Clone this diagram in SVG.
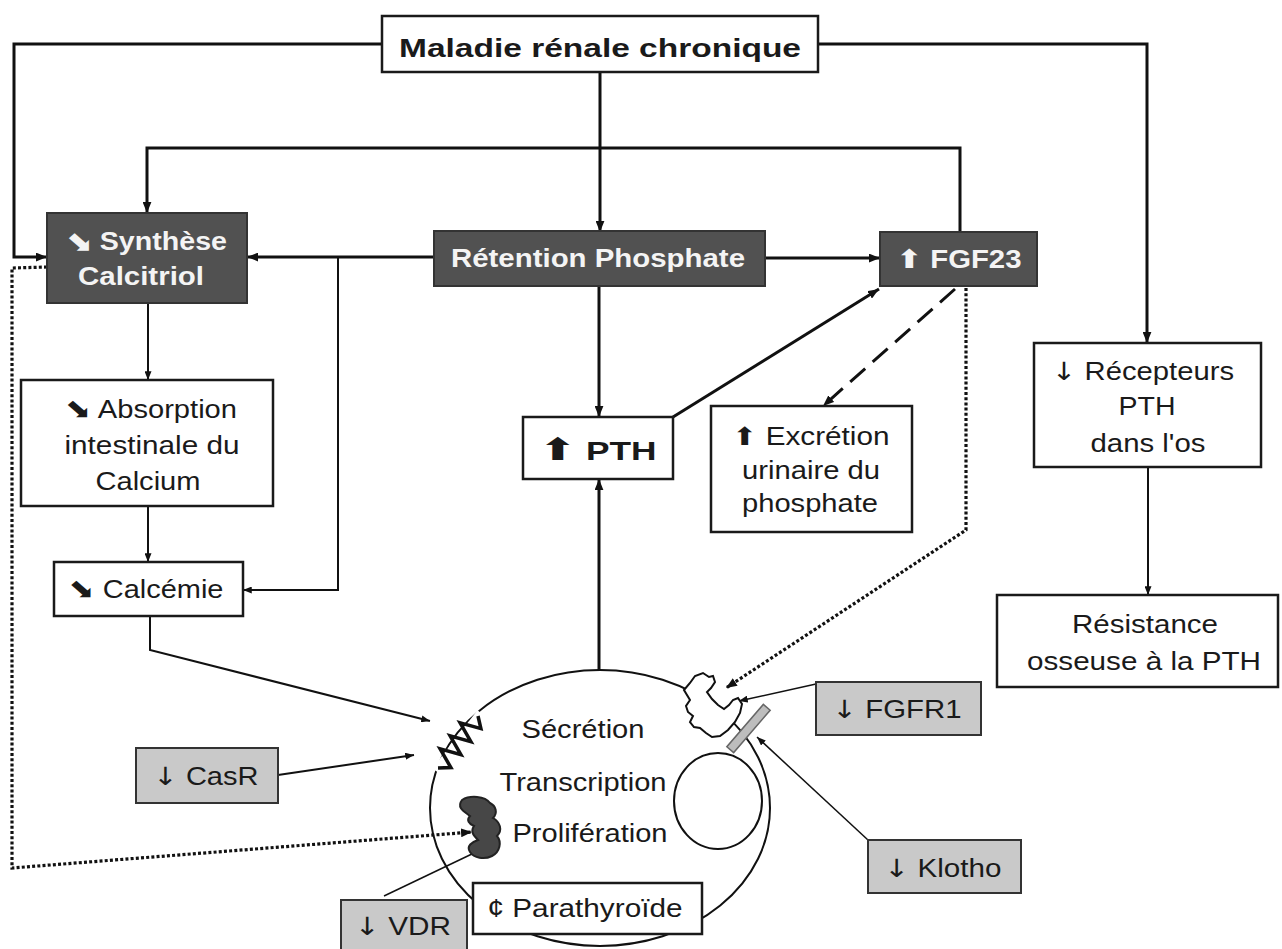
<svg xmlns="http://www.w3.org/2000/svg" width="1282" height="949" viewBox="0 0 1282 949">
<defs>
<style>
.box{fill:#fff;stroke:#1a1a1a;stroke-width:2.5}
.dark{fill:#515151;stroke:#333;stroke-width:2}
.grey{fill:#c9c9c9;stroke:#333;stroke-width:2}
.t{font-family:'Liberation Sans',Arial,sans-serif;font-size:25px;fill:#1a1a1a}
.tw{font-family:'Liberation Sans',Arial,sans-serif;font-size:25px;font-weight:bold;fill:#f4f4f4}
.ar{font-family:'DejaVu Sans',sans-serif}
.c{fill:none;stroke:#111;stroke-width:3}
.c2{fill:none;stroke:#111;stroke-width:2}
.c1{fill:none;stroke:#111;stroke-width:1.5}
.dot{fill:none;stroke:#111;stroke-width:3.2;stroke-dasharray:3 2.2}
.dash{fill:none;stroke:#111;stroke-width:3;stroke-dasharray:20 10}
</style>
<marker id="ah" viewBox="0 0 10 8" refX="10" refY="4" markerWidth="11" markerHeight="9" markerUnits="userSpaceOnUse" orient="auto"><path d="M0,0 L10,4 L0,8 z" fill="#111"/></marker>
<marker id="as" viewBox="0 0 10 8" refX="10" refY="4" markerWidth="9" markerHeight="7" markerUnits="userSpaceOnUse" orient="auto"><path d="M0,0 L10,4 L0,8 z" fill="#111"/></marker>
</defs>
<rect width="1282" height="949" fill="#fff"/>

<g id="connectors">
<polyline class="c" points="382,44 14,44 14,257 47,257" marker-end="url(#ah)"/>
<polyline class="c" points="818,44 1147,44 1147,343" marker-end="url(#ah)"/>
<line class="c" x1="600" y1="72" x2="600" y2="232" marker-end="url(#ah)"/>
<polyline class="c" points="960,233 960,148 147,148 147,213" marker-end="url(#ah)"/>
<line class="c" x1="434" y1="257" x2="247" y2="257" marker-end="url(#ah)"/>
<polyline class="c2" points="338,257 338,590 243,590" marker-end="url(#as)"/>
<line class="c" x1="765" y1="258" x2="880" y2="258" marker-end="url(#ah)"/>
<line class="c" x1="599" y1="286" x2="599" y2="417" marker-end="url(#ah)"/>
<line class="c" x1="673" y1="417" x2="879" y2="289" marker-end="url(#ah)"/>
<line class="dash" x1="955" y1="289" x2="823" y2="406" marker-end="url(#ah)"/>
<polyline class="dot" points="966,288 966,530 726,688" marker-end="url(#ah)"/>
<polyline class="dot" points="47,267 12,268 12,868 472,832" marker-end="url(#ah)"/>
<line class="c2" x1="148" y1="303" x2="148" y2="380" marker-end="url(#as)"/>
<line class="c2" x1="148" y1="506" x2="148" y2="562" marker-end="url(#as)"/>
<polyline class="c2" points="150,616 150,650 430,721" marker-end="url(#as)"/>
<line class="c2" x1="278" y1="775" x2="414" y2="755" marker-end="url(#as)"/>
<line class="c2" x1="1148" y1="467" x2="1148" y2="595" marker-end="url(#as)"/>
<line class="c1" x1="816" y1="684" x2="739" y2="701" marker-end="url(#as)"/>
<line class="c1" x1="868" y1="840" x2="757" y2="737" marker-end="url(#as)"/>
<line class="c1" x1="384" y1="896" x2="474" y2="853"/>
<line class="c" x1="599" y1="670" x2="599" y2="479" marker-end="url(#ah)"/>
</g>

<g id="cell">
<ellipse cx="600" cy="808" rx="170" ry="138" fill="none" stroke="#111" stroke-width="2"/>
<ellipse cx="718" cy="801" rx="44" ry="48" fill="none" stroke="#111" stroke-width="2"/>
<text class="t" x="583" y="738" text-anchor="middle" textLength="123" lengthAdjust="spacingAndGlyphs">Sécrétion</text>
<text class="t" x="583" y="791" text-anchor="middle" textLength="167" lengthAdjust="spacingAndGlyphs">Transcription</text>
<text class="t" x="590" y="842" text-anchor="middle" textLength="155" lengthAdjust="spacingAndGlyphs">Prolifération</text>
</g>

<g id="casr-receptor">
<line x1="436" y1="771" x2="481" y2="713" stroke="#fff" stroke-width="9"/>
<polyline points="438,768 450.9,767.6 440.1,748.9 460.9,754.6 450.1,735.9 470.9,741.6 460.1,722.9 480.9,728.6 478,716" fill="none" stroke="#111" stroke-width="3.5" stroke-linejoin="miter"/>
</g>

<g id="fgfr1-receptor">
<path d="M684,690 L690,683 L695,676 L703,673 L709,677 L713,676 L715,682 L711,688 L707,692 L712,699 L718,705 L724,709 L729,705 L733,700 L738,698 L742,704 L740,713 L735,722 L728,730 L720,736 L712,737 L706,733 L700,728 L694,727 L690,722 L693,716 L688,712 L686,706 L690,700 Z" fill="#fff" stroke="#111" stroke-width="2"/>
</g>

<g id="klotho-bar">
<rect x="-28" y="-4.5" width="56" height="9" fill="#bdbdbd" stroke="#666" stroke-width="1.5" transform="translate(748.5,728.5) rotate(-49.3)"/>
</g>

<g id="vdr-receptor">
<path d="M462,800 C470,795 485,796 490,803 C496,806 498,813 493,818 C500,822 503,830 497,836 C502,842 500,852 492,856 C484,860 474,858 470,852 C466,846 472,842 478,840 C474,836 470,832 474,826 C469,824 466,820 470,816 C465,812 456,808 462,800 Z" fill="#474747" stroke="#222" stroke-width="2"/>
</g>

<g id="maladie">
<rect class="box" x="382" y="16" width="436" height="56"/>
<text class="t" x="600" y="57" text-anchor="middle" font-size="31" font-weight="bold" textLength="402" lengthAdjust="spacingAndGlyphs">Maladie rénale chronique</text>
</g>

<g id="synthese">
<rect class="dark" x="47" y="213" width="200" height="90"/>
<text class="tw" x="146" y="250" text-anchor="middle" textLength="162" lengthAdjust="spacingAndGlyphs"><tspan class="ar" font-size="28">⬊</tspan> Synthèse</text>
<text class="tw" x="141" y="285" text-anchor="middle" textLength="126" lengthAdjust="spacingAndGlyphs">Calcitriol</text>
</g>

<g id="retention">
<rect class="dark" x="434" y="231" width="331" height="55"/>
<text class="tw" x="598" y="267" text-anchor="middle" textLength="294" lengthAdjust="spacingAndGlyphs">Rétention Phosphate</text>
</g>

<g id="fgf23">
<rect class="dark" x="880" y="232" width="157" height="54"/>
<text class="tw" x="959" y="268" text-anchor="middle" textLength="125" lengthAdjust="spacingAndGlyphs"><tspan class="ar" font-size="26">⬆</tspan> FGF23</text>
</g>

<g id="pth">
<rect class="box" x="523" y="417" width="150" height="62"/>
<text class="t" x="598" y="460" text-anchor="middle" font-size="36" font-weight="bold" textLength="117" lengthAdjust="spacingAndGlyphs"><tspan class="ar" font-size="31">⬆</tspan> PTH</text>
</g>

<g id="absorption">
<rect class="box" x="21" y="380" width="252" height="126"/>
<text class="t" x="151" y="418" text-anchor="middle" textLength="172" lengthAdjust="spacingAndGlyphs"><tspan class="ar" font-size="27">⬊</tspan> Absorption</text>
<text class="t" x="152" y="454" text-anchor="middle" textLength="175" lengthAdjust="spacingAndGlyphs">intestinale du</text>
<text class="t" x="148" y="490" text-anchor="middle" textLength="105" lengthAdjust="spacingAndGlyphs">Calcium</text>
</g>

<g id="calcemie">
<rect class="box" x="54" y="562" width="189" height="54"/>
<text class="t" x="146" y="598" text-anchor="middle" textLength="155" lengthAdjust="spacingAndGlyphs"><tspan class="ar" font-size="27">⬊</tspan> Calcémie</text>
</g>

<g id="excretion">
<rect class="box" x="711" y="406" width="201" height="126"/>
<text class="t" x="811" y="445" text-anchor="middle" textLength="157" lengthAdjust="spacingAndGlyphs"><tspan class="ar" font-size="25">⬆</tspan> Excrétion</text>
<text class="t" x="811" y="479" text-anchor="middle" textLength="138" lengthAdjust="spacingAndGlyphs">urinaire du</text>
<text class="t" x="810" y="512" text-anchor="middle" textLength="136" lengthAdjust="spacingAndGlyphs">phosphate</text>
</g>

<g id="recepteurs">
<rect class="box" x="1034" y="343" width="227" height="124"/>
<text class="t" x="1143" y="380" text-anchor="middle" textLength="182" lengthAdjust="spacingAndGlyphs"><tspan class="ar">↓</tspan> Récepteurs</text>
<text class="t" x="1147" y="415" text-anchor="middle" textLength="57" lengthAdjust="spacingAndGlyphs">PTH</text>
<text class="t" x="1148" y="452" text-anchor="middle" textLength="115" lengthAdjust="spacingAndGlyphs">dans l'os</text>
</g>

<g id="resistance">
<rect class="box" x="997" y="595" width="281" height="92"/>
<text class="t" x="1145" y="633" text-anchor="middle" textLength="146" lengthAdjust="spacingAndGlyphs">Résistance</text>
<text class="t" x="1144" y="670" text-anchor="middle" textLength="234" lengthAdjust="spacingAndGlyphs">osseuse à la PTH</text>
</g>

<g id="casr">
<rect class="grey" x="136" y="748" width="142" height="55"/>
<text class="t" x="206" y="785" text-anchor="middle" textLength="105" lengthAdjust="spacingAndGlyphs"><tspan class="ar">↓</tspan> CasR</text>
</g>

<g id="fgfr1">
<rect class="grey" x="816" y="682" width="165" height="53"/>
<text class="t" x="897" y="718" text-anchor="middle" textLength="129" lengthAdjust="spacingAndGlyphs"><tspan class="ar">↓</tspan> FGFR1</text>
</g>

<g id="klotho">
<rect class="grey" x="868" y="840" width="153" height="53"/>
<text class="t" x="943" y="877" text-anchor="middle" textLength="117" lengthAdjust="spacingAndGlyphs"><tspan class="ar">↓</tspan> Klotho</text>
</g>

<g id="vdr">
<rect class="grey" x="341" y="900" width="126" height="54"/>
<text class="t" x="403" y="935" text-anchor="middle" textLength="96" lengthAdjust="spacingAndGlyphs"><tspan class="ar">↓</tspan> VDR</text>
</g>

<g id="parathyroide">
<rect class="box" x="473" y="883" width="229" height="51"/>
<text class="t" x="585" y="917" text-anchor="middle" textLength="195" lengthAdjust="spacingAndGlyphs">¢ Parathyroïde</text>
</g>
</svg>
